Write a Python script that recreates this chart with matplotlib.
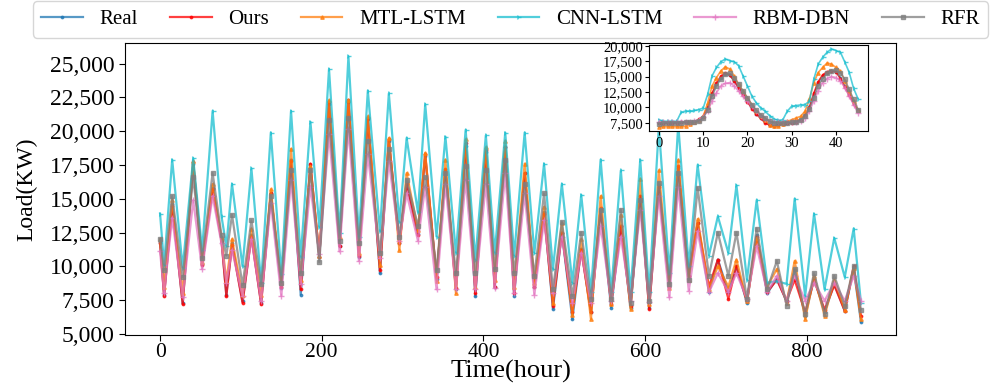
import matplotlib
matplotlib.use("Agg")
import matplotlib.pyplot as plt
from matplotlib.ticker import MultipleLocator, StrMethodFormatter

plt.rcParams['font.family'] = ['Liberation Serif', 'DejaVu Serif']

# ---------------- main chart data (values read at daily troughs/peaks) ----------------
hours = [0, 5, 15, 28, 41, 52, 65, 76, 82, 89, 102, 113, 125, 137, 150, 162, 174, 186,
         197, 209, 222, 233, 246, 257, 272, 283, 296, 305, 319, 328, 342, 353, 366, 378,
         390, 403, 414, 427, 438, 451, 463, 475, 486, 497, 510, 521, 533, 545, 558, 570,
         582, 594, 605, 617, 630, 641, 654, 665, 679, 690, 703, 713, 726, 738, 751, 763,
         775, 785, 798, 809, 822, 834, 847, 858, 867]

real = [11800, 7900, 14600, 7250, 17600, 10200, 15800, 12000, 7900, 11700, 7400, 12300,
        7300, 15400, 8400, 17900, 7900, 17500, 10700, 22000, 11500, 22200, 10700, 21000,
        9500, 19300, 11700, 16200, 12400, 18200, 9100, 17100, 8300, 18900, 7800, 18500,
        8500, 18800, 7800, 16900, 8500, 14000, 6850, 12500, 6100, 11300, 6600, 14200,
        6950, 13000, 6950, 15200, 6900, 16000, 8500, 17300, 9300, 13200, 8100, 10500,
        8100, 10000, 7300, 12300, 8000, 9100, 7400, 9700, 6300, 9100, 6600, 8700, 6700,
        9800, 5900]
ours = [11700, 7800, 14500, 7200, 17700, 10100, 15700, 11900, 7800, 11600, 7300, 12200,
        7200, 15400, 8500, 17800, 8300, 17600, 10700, 22200, 11500, 22300, 10800, 20900,
        9700, 19400, 11700, 16100, 12300, 18300, 9200, 17200, 8400, 19100, 8000, 18600,
        8500, 18800, 8000, 16900, 8500, 13900, 7100, 12500, 6600, 11200, 6600, 14300,
        7200, 13000, 7100, 15200, 6850, 15900, 8500, 17400, 9300, 13200, 8500, 10500,
        7600, 10000, 7400, 12200, 8100, 9000, 7450, 9000, 6600, 9000, 6800, 8600, 6700,
        10000, 6350]
mtl_lstm = [12000, 8500, 14900, 8000, 17800, 10300, 16100, 12100, 8900, 12000, 7900, 12800,
            7900, 15700, 8800, 18700, 9000, 17400, 10800, 22300, 12200, 22300, 11000, 21100,
            10100, 19500, 11200, 16900, 12700, 18400, 8900, 17900, 8000, 19400, 8500, 18800,
            9000, 19300, 8500, 17600, 8800, 14400, 7300, 13200, 6400, 12000, 6100, 15200,
            7200, 13800, 6850, 16500, 7200, 17100, 8400, 17900, 9000, 13500, 8300, 10000,
            8500, 10500, 7400, 12100, 8500, 9800, 7300, 10400, 6100, 9300, 6350, 9000, 6800,
            9900, 6100]
cnn_lstm = [13900, 10100, 17900, 9900, 18000, 11200, 21500, 13700, 11500, 16100, 10000, 17250,
            8800, 19900, 9400, 21500, 10700, 20700, 12900, 24600, 12500, 25550, 12200, 23000,
            12600, 22800, 13300, 19500, 14000, 22000, 12200, 19600, 11000, 20100, 10500, 19700,
            11000, 19900, 10800, 19900, 11000, 17600, 9800, 16100, 8800, 15300, 8100, 17900,
            8100, 17100, 8100, 17900, 8100, 20300, 9500, 20500, 10000, 17500, 10800, 13700,
            11000, 16000, 9000, 14900, 8800, 8900, 8700, 15000, 7800, 13900, 8300, 12100, 9200,
            12800, 7300]
rbm_dbn = [11100, 8000, 13600, 7700, 14900, 9800, 15200, 11700, 8800, 11200, 7800, 12000,
           7450, 14700, 7800, 16400, 8700, 15900, 10900, 19800, 11100, 20200, 10400, 18300,
           10600, 17800, 11900, 15400, 11900, 15900, 8300, 16100, 8300, 16400, 8300, 16100,
           8400, 16900, 8000, 15400, 7900, 13400, 8000, 12200, 7300, 11000, 7300, 13000,
           7450, 12200, 7450, 14200, 7350, 15200, 7700, 15900, 8200, 12600, 8100, 9500,
           8100, 9500, 7600, 11500, 8100, 9300, 7450, 9300, 7450, 8800, 7450, 8800, 7450,
           9300, 7450]
rfr = [12000, 9700, 15200, 9200, 16600, 10600, 16900, 12300, 10800, 13800, 8600, 13400,
       8700, 15200, 8800, 17100, 9500, 17100, 10300, 20800, 11900, 21000, 11700, 19300,
       11000, 18700, 12200, 16400, 13000, 16600, 9700, 16900, 9500, 17400, 9500, 17100,
       9800, 17900, 9500, 16100, 9300, 15400, 8300, 13300, 7800, 12500, 7600, 14200,
       7600, 14200, 7300, 14900, 7450, 16200, 8700, 16900, 9000, 15800, 9300, 12500,
       9300, 12500, 7600, 12800, 8300, 10400, 7100, 9800, 6500, 9500, 6500, 9300, 7100,
       10000, 6800]

# ---------------- inset data (hours 0..45) ----------------
inset_real = [7450, 7500, 7500, 7550, 7550, 7600, 7600, 7600, 7650, 7990, 8430, 9900, 12100,
              13760, 14860, 15400, 15240, 14310, 13210, 12110, 11010, 9910, 8980, 8270, 7550,
              7120, 7010, 7170, 7340, 7450, 7550, 7720, 7990, 8650, 9910, 12110, 14030, 15130,
              15680, 15950, 15840, 14860, 13480, 12110, 10740, 9530]
inset_ours = [7400, 7450, 7450, 7500, 7500, 7550, 7600, 7600, 7700, 8050, 8500, 10100, 12300,
              14000, 15100, 15600, 15300, 14300, 13100, 12000, 10900, 9800, 8900, 8200, 7500,
              7100, 7000, 7150, 7300, 7400, 7500, 7700, 8000, 8700, 10000, 12300, 14200, 15300,
              15800, 16000, 15800, 14700, 13300, 12000, 10600, 9450]
inset_mtl = [6790, 6900, 6900, 6900, 6900, 6900, 6950, 7340, 7550, 7990, 8540, 10740, 13480,
             14860, 15950, 16610, 16230, 15130, 13760, 12660, 11560, 10460, 9370, 8650, 7990,
             7170, 6900, 7010, 7340, 7720, 7990, 8270, 8540, 9370, 11290, 14030, 15680, 16500,
             17220, 17050, 16500, 15950, 14310, 12660, 11010, 9640]
inset_cnn = [7990, 7720, 7720, 7720, 7720, 9200, 9400, 9400, 9500, 9640, 9900, 12100, 15130,
             16500, 17440, 17880, 17600, 17440, 16780, 15130, 13480, 11830, 10740, 9900, 9370,
             8650, 8100, 7880, 7990, 9370, 10190, 10300, 10400, 10460, 11010, 14580, 17050,
             18150, 18970, 19520, 19250, 19000, 17400, 15700, 13100, 11400]
inset_rbm = [7610, 7610, 7650, 7650, 7650, 7650, 7700, 7700, 7750, 7990, 8430, 9370, 11010,
             12390, 13480, 13920, 14030, 13480, 12660, 11830, 11010, 10190, 9370, 8650, 8100,
             7720, 7550, 7550, 7550, 7550, 7550, 7600, 7830, 8270, 9370, 11010, 12660, 14030,
             14690, 15020, 14860, 14310, 13210, 11830, 10460, 9100]
inset_rfr = [7340, 7450, 7450, 7500, 7500, 7500, 7550, 7550, 7550, 7830, 8270, 9640, 11830,
             13480, 14690, 15400, 15570, 14860, 13760, 12660, 11560, 10460, 9530, 8820, 8270,
             7720, 7450, 7450, 7450, 7500, 7550, 7600, 7990, 8540, 9750, 11560, 13480, 14690,
             15570, 15950, 16060, 15680, 14580, 12930, 11290, 9640]
inset_hours = list(range(len(inset_real)))

labels = ["Real", "Ours", "MTL-LSTM", "CNN-LSTM", "RBM-DBN", "RFR"]
colors = ["#1f77b4", "#ff0000", "#ff7f0e", "#17becf", "#e377c2", "#7f7f7f"]
markers = [".", ".", "^", "4", "+", "s"]
msizes = [3.5, 3.5, 2.5, 4, 4, 2.5]

main_series = [real, ours, mtl_lstm, cnn_lstm, rbm_dbn, rfr]
inset_series = [inset_real, inset_ours, inset_mtl, inset_cnn, inset_rbm, inset_rfr]
for s in main_series:
    assert len(s) == len(hours)
for s in inset_series:
    assert len(s) == len(inset_hours)

fig = plt.figure(figsize=(9.93, 3.86), dpi=100)
ax = fig.add_axes([0.1259, 0.1321, 0.7764, 0.7565])

handles = []
for vals, lab, c, m, ms in zip(main_series, labels, colors, markers, msizes):
    h, = ax.plot(hours, vals, color=c, marker=m, markersize=ms, linewidth=1.6,
                 alpha=0.75, label=lab)
    handles.append(h)

ax.yaxis.set_major_locator(MultipleLocator(2500))
ax.yaxis.set_major_formatter(StrMethodFormatter('{x:,.0f}'))
ax.xaxis.set_major_locator(MultipleLocator(200))
ax.tick_params(axis='y', labelsize=17, length=4, width=0.8)
ax.tick_params(axis='x', labelsize=15.5, length=4, width=0.8, pad=1.5)
ax.set_xlabel("Time(hour)", fontsize=19)
ax.set_ylabel("Load(KW)", fontsize=17)
ax.xaxis.set_label_coords(0.5, -0.085)
ax.yaxis.set_label_coords(-0.114, 0.5)

# inset
axin = fig.add_axes([0.6536, 0.6606, 0.2205, 0.2228])
for vals, lab, c, m, ms in zip(inset_series, labels, colors, markers, msizes):
    axin.plot(inset_hours, vals, color=c, marker=m, markersize=ms, linewidth=1.2,
              alpha=0.75)
axin.yaxis.set_major_locator(MultipleLocator(2500))
axin.yaxis.set_major_formatter(StrMethodFormatter('{x:,.0f}'))
axin.xaxis.set_major_locator(MultipleLocator(10))
axin.tick_params(axis='both', labelsize=10.5, length=3, width=0.8, pad=1.5)

fig.legend(handles=handles, labels=labels, loc='center', ncol=6, mode='expand',
           bbox_to_anchor=(0.0332, 0.9119, 0.9617, 0.0751), fontsize=15,
           frameon=True, fancybox=True, edgecolor='#cccccc', borderaxespad=0)

fig.savefig("out.png", dpi=100)
